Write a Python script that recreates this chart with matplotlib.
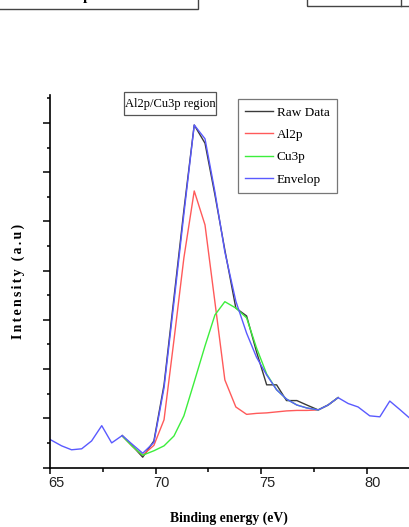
import matplotlib
matplotlib.use("Agg")
import matplotlib.pyplot as plt
from matplotlib.patches import Rectangle
from matplotlib.lines import Line2D
from matplotlib.transforms import ScaledTranslation

# binding energy (eV) and intensity (a.u.)
env_e = [65.00, 65.55, 66.02, 66.50, 66.97, 67.45, 67.92, 68.42, 68.90, 69.39,
         69.92, 70.40, 70.87, 71.34, 71.83, 72.34, 72.81, 73.28, 73.80, 74.31,
         74.78, 75.26, 75.73, 76.20, 76.69, 77.16, 77.70, 78.17, 78.64, 79.12,
         79.59, 80.14, 80.62, 81.09, 81.56, 82.04]
env_i = [0.57, 0.44, 0.36, 0.38, 0.54, 0.85, 0.50, 0.65, 0.47, 0.29,
         0.51, 1.62, 3.36, 5.15, 6.96, 6.68, 5.60, 4.38, 3.38, 2.73,
         2.24, 1.88, 1.58, 1.39, 1.27, 1.21, 1.17, 1.27, 1.42, 1.30,
         1.23, 1.05, 1.03, 1.35, 1.18, 1.00]

fit_e = [68.42, 68.90, 69.39, 69.92, 70.40, 70.87, 71.34, 71.83, 72.34, 72.81,
         73.28, 73.80, 74.31, 74.78, 75.26, 75.73, 76.20, 76.69, 77.16, 77.70,
         78.17, 78.64]
raw_i = [0.65, 0.44, 0.21, 0.54, 1.68, 3.45, 5.23, 6.96, 6.59, 5.54,
         4.42, 3.24, 3.08, 2.35, 1.68, 1.68, 1.36, 1.36, 1.27, 1.17,
         1.27, 1.42]
al_i = [0.64, 0.43, 0.25, 0.45, 0.97, 2.59, 4.26, 5.62, 4.93, 3.36,
        1.78, 1.23, 1.08, 1.10, 1.11, 1.13, 1.15, 1.16, 1.16, 1.17,
        1.27, 1.42]
cu_i = [0.64, 0.43, 0.25, 0.34, 0.44, 0.64, 1.05, 1.74, 2.47, 3.10,
        3.37, 3.24, 3.04, 2.43, 1.90, 1.58, 1.39, 1.27, 1.21, 1.17,
        1.27, 1.42]

W, H = 409, 527
fig = plt.figure(figsize=(W / 100, H / 100), dpi=100)
ax = fig.add_axes([50 / W, (H - 467.5) / H, (W - 50) / W, (467.5 - 95) / H])

ax.plot(fit_e, raw_i, color="#3a3a3a", lw=1.0, label="Raw Data")
ax.plot(fit_e, al_i, color="#ff5a5a", lw=1.0, label="Al2p")
ax.plot(fit_e, cu_i, color="#3cee3c", lw=1.0, label="Cu3p")
ax.plot(env_e, env_i, color="#5a5aff", lw=1.0, label="Envelop")

ax.set_xlim(65, 82)
ax.set_ylim(0, 7.57)
ax.spines["top"].set_visible(False)
ax.spines["right"].set_visible(False)
ax.spines["left"].set_linewidth(1.2)
ax.spines["bottom"].set_linewidth(1.2)

ax.set_xticks([65, 70, 75, 80])
ax.set_xticks([67.5, 72.5, 77.5], minor=True)
ax.set_yticks(range(0, 8))
ax.set_yticks([0.5 + k for k in range(8)], minor=True)
ax.set_yticklabels([])
ax.tick_params(axis="x", which="major", direction="out", length=4.3, width=1.1, pad=1.5)
ax.tick_params(axis="x", which="minor", direction="out", length=3.0, width=1.1)
ax.tick_params(axis="y", which="major", direction="out", length=5.0, width=1.1)
ax.tick_params(axis="y", which="minor", direction="out", length=2.5, width=1.1)
for lab in ax.get_xticklabels():
    lab.set_family(["Liberation Sans Narrow", "Liberation Sans"])
    lab.set_fontsize(10.5)
    lab.set_color("#222222")
    lab.set_transform(lab.get_transform() + ScaledTranslation(0.06, 0, fig.dpi_scale_trans))

serif = ["Liberation Serif", "DejaVu Serif"]
fig.text(229 / W, 1 - 518 / H, "Binding energy (eV)", ha="center", va="center",
         family=serif, weight="bold", fontsize=9.8)
ylab = "\u200a\u200a".join("Intensity (a.u)")
fig.text(18 / W, 1 - 281 / H, ylab, ha="center", va="center",
         rotation=90, family=serif, weight="bold", fontsize=10)

# region label box
fig.add_artist(Rectangle((124 / W, 1 - 115 / H), 92 / W, 23 / H, transform=fig.transFigure,
                         fill=False, ec="#555555", lw=0.9))
fig.text(170 / W, 1 - 104 / H, "Al2p/Cu3p region", ha="center", va="center",
         family=serif, fontsize=9)

leg = ax.legend(loc="upper left", bbox_to_anchor=(237.7 / W, 1 - 99.3 / H),
                bbox_transform=fig.transFigure, borderaxespad=0, fancybox=False,
                framealpha=1, edgecolor="#777777", prop={"family": serif, "size": 9.5},
                handlelength=2.15, handletextpad=0.25, labelspacing=0.76, borderpad=0.55)
leg.get_frame().set_linewidth(0.9)

# remains of the neighbouring panels cropped at the top edge
fig.add_artist(Rectangle((-5 / W, 1 - 8.7 / H), 203 / W, 20 / H, transform=fig.transFigure,
                         fill=False, ec="#444444", lw=1.0, clip_on=False))
fig.add_artist(Rectangle((307 / W, 1 - 6.3 / H), 110 / W, 20 / H, transform=fig.transFigure,
                         fill=False, ec="#444444", lw=1.0, clip_on=False))
fig.add_artist(Line2D([401 / W, 401 / W], [1, 1 - 6.3 / H], transform=fig.transFigure,
                      color="#444444", lw=1.0))
fig.text(87 / W, 1.0, "p", ha="center", va="baseline", family=serif, weight="bold", fontsize=11)

fig.savefig("out.png", dpi=100)
